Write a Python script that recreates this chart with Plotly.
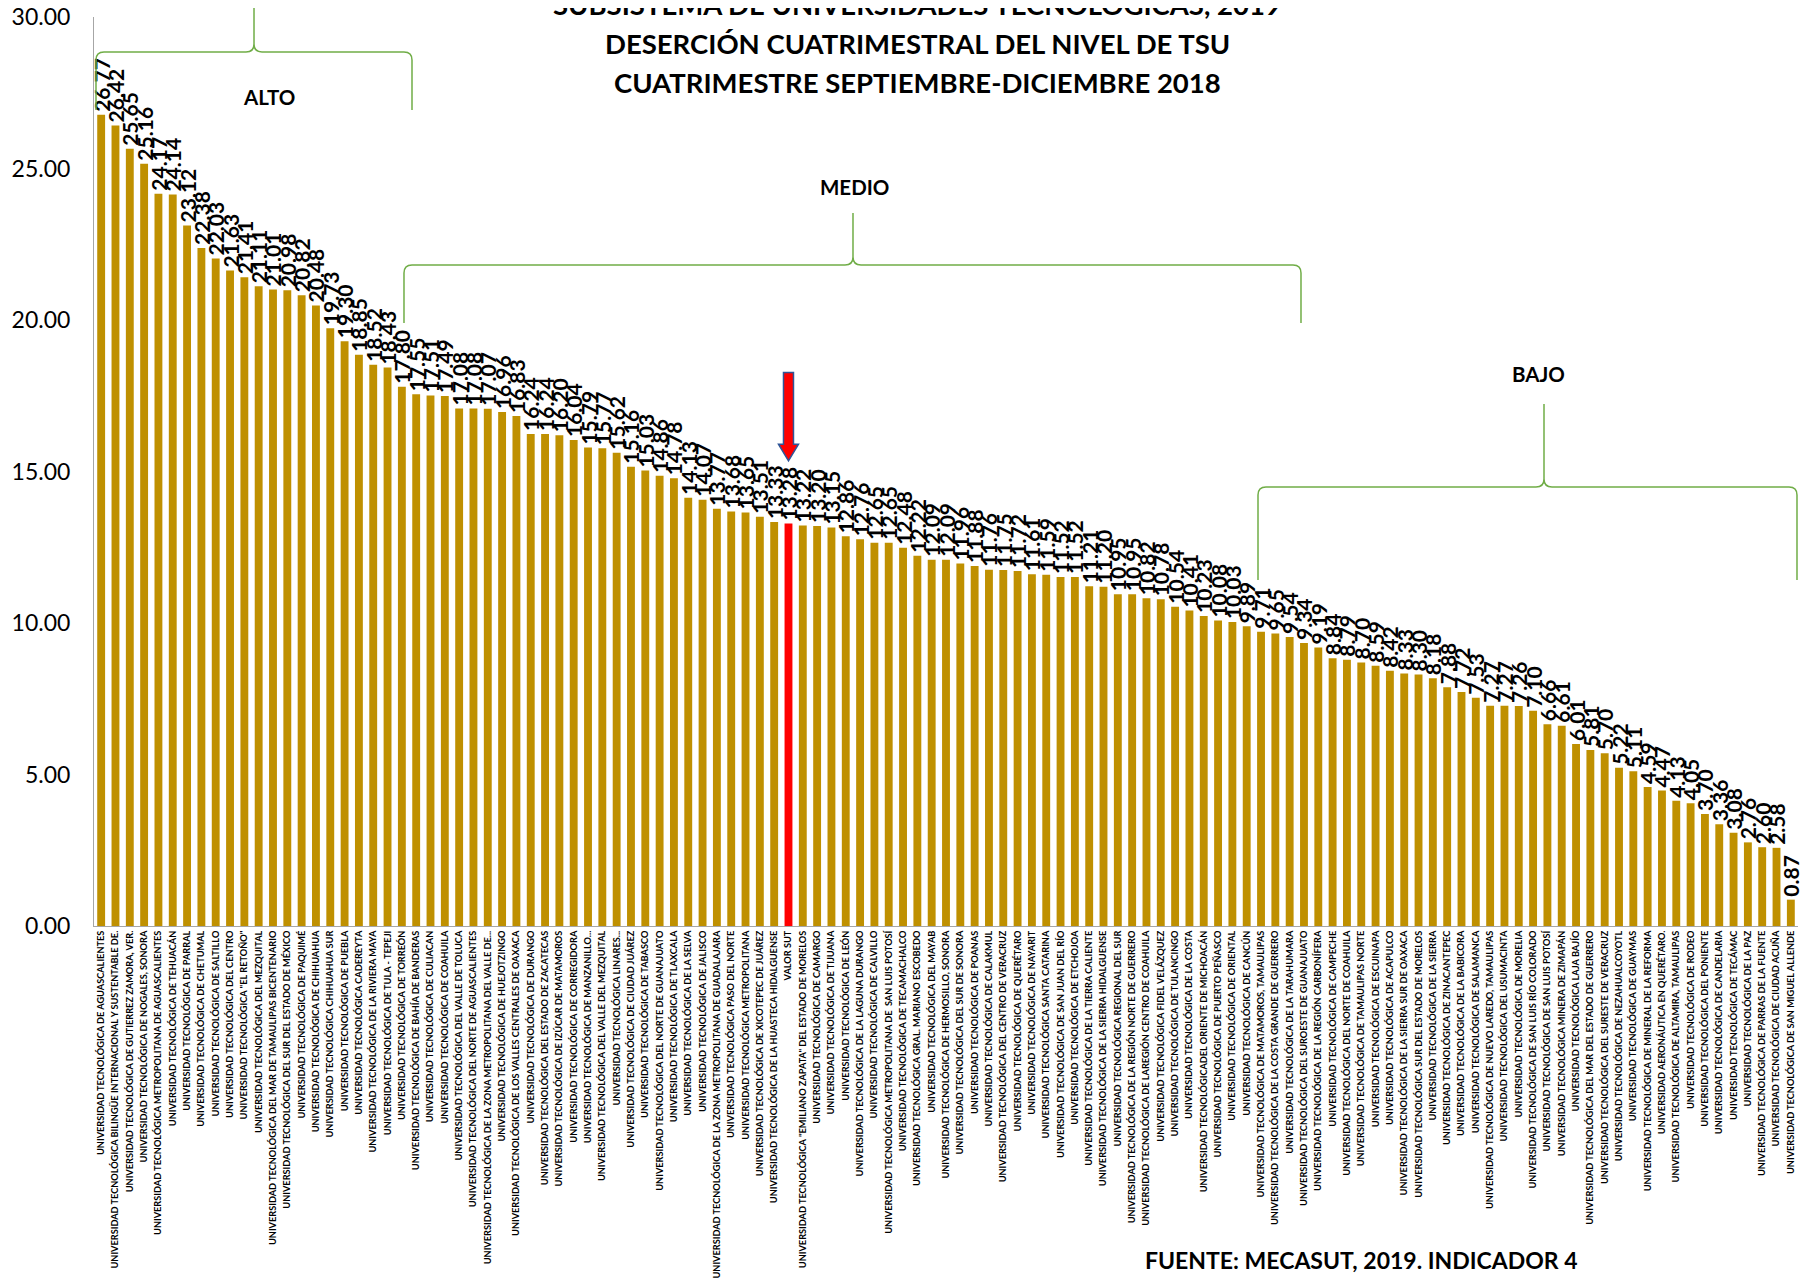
import plotly.graph_objects as go

universidades = [
    "UNIVERSIDAD TECNOLÓGICA DE AGUASCALIENTES",
    "UNIVERSIDAD TECNOLÓGICA BILINGÜE INTERNACIONAL Y SUSTENTABLE DE.",
    "UNIVERSIDAD TECNOLÓGICA DE GUTIERREZ ZAMORA, VER.",
    "UNIVERSIDAD TECNOLÓGICA DE NOGALES, SONORA",
    "UNIVERSIDAD TECNOLÓGICA METROPOLITANA DE AGUASCALIENTES",
    "UNIVERSIDAD TECNOLÓGICA DE TEHUACÁN",
    "UNIVERSIDAD TECNOLÓGICA DE PARRAL",
    "UNIVERSIDAD TECNOLÓGICA DE CHETUMAL",
    "UNIVERSIDAD TECNOLÓGICA DE SALTILLO",
    "UNIVERSIDAD TECNOLÓGICA DEL CENTRO",
    "UNIVERSIDAD TECNOLÓGICA \"EL RETOÑO\"",
    "UNIVERSIDAD TECNOLÓGICA DEL MEZQUITAL",
    "UNIVERSIDAD TECNOLÓGICA DEL MAR DE TAMAULIPAS BICENTENARIO",
    "UNIVERSIDAD TECNOLÓGICA DEL SUR DEL ESTADO DE MÉXICO",
    "UNIVERSIDAD TECNOLÓGICA DE PAQUIMÉ",
    "UNIVERSIDAD TECNOLÓGICA DE CHIHUAHUA",
    "UNIVERSIDAD TECNOLÓGICA CHIHUAHUA SUR",
    "UNIVERSIDAD TECNOLÓGICA DE PUEBLA",
    "UNIVERSIDAD TECNOLÓGICA CADEREYTA",
    "UNIVERSIDAD TECNOLÓGICA DE LA RIVIERA MAYA",
    "UNIVERSIDAD TECNOLÓGICA DE TULA - TEPEJI",
    "UNIVERSIDAD TECNOLÓGICA DE TORREÓN",
    "UNIVERSIDAD TECNOLÓGICA DE BAHÍA DE BANDERAS",
    "UNIVERSIDAD TECNOLÓGICA DE CULIACAN",
    "UNIVERSIDAD TECNOLÓGICA DE COAHUILA",
    "UNIVERSIDAD TECNOLÓGICA DEL VALLE DE TOLUCA",
    "UNIVERSIDAD TECNOLÓGICA DEL NORTE DE AGUASCALIENTES",
    "UNIVERSIDAD TECNOLÓGICA DE LA ZONA METROPOLITANA DEL VALLE DE...",
    "UNIVERSIDAD TECNOLÓGICA DE HUEJOTZINGO",
    "UNIVERSIDAD TECNOLÓGICA DE LOS VALLES CENTRALES DE OAXACA",
    "UNIVERSIDAD TECNOLÓGICA DE DURANGO",
    "UNIVERSIDAD TECNOLÓGICA DEL ESTADO DE ZACATECAS",
    "UNIVERSIDAD TECNOLÓGICA DE IZÚCAR DE MATAMOROS",
    "UNIVERSIDAD TECNOLÓGICA DE CORREGIDORA",
    "UNIVERSIDAD TECNOLÓGICA DE MANZANILLO...",
    "UNIVERSIDAD TECNOLÓGICA DEL VALLE DEL MEZQUITAL",
    "UNIVERSIDAD TECNOLÓGICA LINARES...",
    "UNIVERSIDAD TECNOLÓGICA DE CIUDAD JUÁREZ",
    "UNIVERSIDAD TECNOLÓGICA DE TABASCO",
    "UNIVERSIDAD TECNOLÓGICA DEL NORTE DE GUANAJUATO",
    "UNIVERSIDAD TECNOLÓGICA DE TLAXCALA",
    "UNIVERSIDAD TECNOLÓGICA DE LA SELVA",
    "UNIVERSIDAD TECNOLÓGICA DE JALISCO",
    "UNIVERSIDAD TECNOLÓGICA DE LA ZONA METROPOLITANA DE GUADALAJARA",
    "UNIVERSIDAD TECNOLÓGICA PASO DEL NORTE",
    "UNIVERSIDAD TECNOLÓGICA METROPOLITANA",
    "UNIVERSIDAD TECNOLÓGICA DE XICOTEPEC DE JUÁREZ",
    "UNIVERSIDAD TECNOLÓGICA DE LA HUASTECA HIDALGUENSE",
    "VALOR SUT",
    "UNIVERSIDAD TECNOLÓGICA \"EMILIANO ZAPATA\" DEL ESTADO DE MORELOS",
    "UNIVERSIDAD TECNOLÓGICA DE CAMARGO",
    "UNIVERSIDAD TECNOLÓGICA DE TIJUANA",
    "UNIVERSIDAD TECNOLÓGICA DE LEÓN",
    "UNIVERSIDAD TECNOLÓGICA DE LA LAGUNA DURANGO",
    "UNIVERSIDAD TECNOLÓGICA DE CALVILLO",
    "UNIVERSIDAD TECNOLÓGICA METROPOLITANA DE  SAN LUIS POTOSÍ",
    "UNIVERSIDAD TECNOLÓGICA DE TECAMACHALCO",
    "UNIVERSIDAD TECNOLÓGICA GRAL. MARIANO ESCOBEDO",
    "UNIVERSIDAD TECNOLÓGICA DEL MAYAB",
    "UNIVERSIDAD TECNOLÓGICA DE HERMOSILLO, SONORA",
    "UNIVERSIDAD TECNOLÓGICA DEL SUR DE SONORA",
    "UNIVERSIDAD TECNOLÓGICA DE POANAS",
    "UNIVERSIDAD TECNOLÓGICA DE CALAKMUL",
    "UNIVERSIDAD TECNOLÓGICA DEL CENTRO DE VERACRUZ",
    "UNIVERSIDAD TECNOLÓGICA DE QUERÉTARO",
    "UNIVERSIDAD TECNOLÓGICA DE NAYARIT",
    "UNIVERSIDAD TECNOLÓGICA SANTA CATARINA",
    "UNIVERSIDAD TECNOLÓGICA DE SAN JUAN DEL RÍO",
    "UNIVERSIDAD TECNOLÓGICA DE ETCHOJOA",
    "UNIVERSIDAD TECNOLÓGICA DE LA TIERRA CALIENTE",
    "UNIVERSIDAD TECNOLÓGICA DE LA SIERRA HIDALGUENSE",
    "UNIVERSIDAD TECNOLÓGICA REGIONAL DEL SUR",
    "UNIVERSIDAD TECNOLÓGICA DE LA REGIÓN NORTE DE GUERRERO",
    "UNIVERSIDAD TECNOLÓGICA DE LAREGIÓN CENTRO DE COAHUILA",
    "UNIVERSIDAD TECNOLÓGICA FIDEL VELÁZQUEZ",
    "UNIVERSIDAD TECNOLÓGICA DE TULANCINGO",
    "UNIVERSIDAD TECNOLÓGICA DE LA COSTA",
    "UNIVERSIDAD TECNOLÓGICADEL ORIENTE DE MICHOACÁN",
    "UNIVERSIDAD TECNOLÓGICA DE PUERTO PEÑASCO",
    "UNIVERSIDAD TECNOLÓGICA DE ORIENTAL",
    "UNIVERSIDAD TECNOLÓGICA DE CANCÚN",
    "UNIVERSIDAD TECNOLÓGICA DE MATAMOROS, TAMAULIPAS",
    "UNIVERSIDAD TECNOLÓGICA DE LA COSTA GRANDE DE GUERRERO",
    "UNIVERSIDAD TECNOLÓGICA DE LA TARAHUMARA",
    "UNIVERSIDAD TECNOLÓGICA DEL SUROESTE DE GUANAJUATO",
    "UNIVERSIDAD TECNOLÓGICA DE LA REGIÓN CARBONÍFERA",
    "UNIVERSIDAD TECNOLÓGICA DE CAMPECHE",
    "UNIVERSIDAD TECNOLÓGICA DEL NORTE DE COAHUILA",
    "UNIVERSIDAD TECNOLÓGICA DE TAMAULIPAS NORTE",
    "UNIVERSIDAD TECNOLÓGICA DE ESCUINAPA",
    "UNIVERSIDAD TECNOLÓGICA DE ACAPULCO",
    "UNIVERSIDAD TECNOLÓGICA DE LA SIERRA SUR DE OAXACA",
    "UNIVERSIDAD TECNOLÓGICA SUR DEL ESTADO DE MORELOS",
    "UNIVERSIDAD TECNOLÓGICA DE LA SIERRA",
    "UNIVERSIDAD TECNOLÓGICA DE ZINACANTEPEC",
    "UNIVERSIDAD TECNOLÓGICA DE LA BABICORA",
    "UNIVERSIDAD TECNOLÓGICA DE SALAMANCA",
    "UNIVERSIDAD TECNOLÓGICA DE NUEVO LAREDO, TAMAULIPAS",
    "UNIVERSIDAD TECNOLÓGICA DEL USUMACINTA",
    "UNIVERSIDAD TECNOLÓGICA DE MORELIA",
    "UNIVERSIDAD TECNOLÓGICA DE SAN LUIS RÍO COLORADO",
    "UNIVERSIDAD TECNOLÓGICA DE SAN LUIS POTOSÍ",
    "UNIVERSIDAD TECNOLÓGICA MINERA DE ZIMAPÁN",
    "UNIVERSIDAD TECNOLÓGICA LAJA BAJÍO",
    "UNIVERSIDAD TECNOLÓGICA DEL MAR DEL ESTADO DE GUERRERO",
    "UNIVERSIDAD TECNOLÓGICA DEL SURESTE DE VERACRUZ",
    "UNIVERSIDAD TECNOLÓGICA DE NEZAHUALCOYOTL",
    "UNIVERSIDAD TECNOLÓGICA DE GUAYMAS",
    "UNIVERSIDAD TECNOLÓGICA DE MINERAL DE LA REFORMA",
    "UNIVERSIDAD AERONÁUTICA EN QUERÉTARO.",
    "UNIVERSIDAD TECNOLÓGICA DE ALTAMIRA, TAMAULIPAS",
    "UNIVERSIDAD TECNOLÓGICA DE RODEO",
    "UNIVERSIDAD TECNOLÓGICA DEL PONIENTE",
    "UNIVERSIDAD TECNOLÓGICA DE CANDELARIA",
    "UNIVERSIDAD TECNOLÓGICA DE TECÁMAC",
    "UNIVERSIDAD TECNOLÓGICA DE LA PAZ",
    "UNIVERSIDAD TECNOLÓGICA DE PARRAS DE LA FUENTE",
    "UNIVERSIDAD TECNOLÓGICA DE CIUDAD ACUÑA",
    "UNIVERSIDAD TECNOLÓGICA DE SAN MIGUEL ALLENDE",
]

desercion = [
    26.77, 26.42, 25.65, 25.16, 24.17, 24.14, 23.12, 22.38, 22.03, 21.63,
    21.41, 21.11, 21.01, 20.98, 20.82, 20.48, 19.73, 19.30, 18.85, 18.52,
    18.43, 17.80, 17.55, 17.51, 17.49, 17.08, 17.08, 17.07, 16.96, 16.83,
    16.24, 16.24, 16.20, 16.04, 15.79, 15.77, 15.62, 15.16, 15.03, 14.86,
    14.78, 14.13, 14.07, 13.77, 13.68, 13.65, 13.51, 13.33, 13.28, 13.22,
    13.20, 13.15, 12.86, 12.76, 12.65, 12.65, 12.48, 12.22, 12.09, 12.09,
    11.96, 11.88, 11.76, 11.75, 11.72, 11.61, 11.59, 11.52, 11.52, 11.21,
    11.20, 10.95, 10.95, 10.82, 10.78, 10.54, 10.41, 10.23, 10.08, 10.03,
    9.89, 9.71, 9.65, 9.54, 9.34, 9.19, 8.84, 8.79, 8.70, 8.59,
    8.42, 8.33, 8.30, 8.18, 7.88, 7.72, 7.53, 7.27, 7.27, 7.26,
    7.10, 6.66, 6.61, 6.01, 5.81, 5.70, 5.22, 5.11, 4.59, 4.47,
    4.13, 4.05, 3.70, 3.36, 3.08, 2.76, 2.60, 2.58, 0.87,
]

resaltado = "VALOR SUT"
titulo = [
    "SUBSISTEMA DE UNIVERSIDADES TECNOLÓGICAS, 2019",
    "DESERCIÓN CUATRIMESTRAL DEL NIVEL DE TSU",
    "CUATRIMESTRE SEPTIEMBRE-DICIEMBRE 2018",
]
fuente = "FUENTE: MECASUT, 2019. INDICADOR 4"
y_ticks = [0, 5, 10, 15, 20, 25, 30]

GOLD = "#BF9000"
RED = "#FF0000"
GREEN = "#70AD47"
FONT = "Lato"

# page has an 8px body offset; work in page pixels and convert
OFF = 8
W, H = 1809 - OFF, 1282 - OFF
PL, PR, PT, PB = 94, 1798, 17, 926   # plot area in page pixels
ML, MR, MT, MB = PL - OFF, 1809 - PR, PT - OFF, 1282 - PB
PW = PR - PL
PH = PB - PT

colors = [RED if u == resaltado else GOLD for u in universidades]
labels = [f"{v:.2f}" for v in desercion]

fig = go.Figure(
    go.Bar(
        x=universidades,
        y=desercion,
        marker=dict(color=colors, line=dict(width=0)),
        text=labels,
        texttemplate="<b>%{text}</b>",
        textposition="outside",
        textangle=-90,
        textfont=dict(family=FONT, size=21, color="black"),
        constraintext="none",
        cliponaxis=False,
        hoverinfo="x+y",
    )
)

n = len(universidades)


def px(x):
    return (x - PL) / PW


def py(y):
    return 1 - (y - PT) / PH


def brace(x0, x1, xm, yh, yb, yp, r=8):
    pts = [
        ("M", x0, yb), ("L", x0, yh + r), ("Q", x0, yh, x0 + r, yh),
        ("L", xm - r, yh), ("Q", xm, yh, xm, yh - r), ("L", xm, yp),
        ("L", xm, yh - r), ("Q", xm, yh, xm + r, yh),
        ("L", x1 - r, yh), ("Q", x1, yh, x1, yh + r), ("L", x1, yb),
    ]
    out = []
    for p in pts:
        cmd = p[0]
        coords = p[1:]
        s = []
        for i in range(0, len(coords), 2):
            s.append(f"{px(coords[i]):.5f},{py(coords[i+1]):.5f}")
        out.append(cmd + " " + " ".join(s))
    return " ".join(out)


shapes = []
for b in [
    (96, 412, 254, 52, 110, 0),
    (404, 1301, 853, 265, 323, 213),
    (1258, 1797, 1544, 487, 580, 404),
]:
    shapes.append(dict(type="path", xref="paper", yref="paper",
                       path=brace(*b), line=dict(color=GREEN, width=1.5),
                       layer="above"))

# arrow over VALOR SUT
idx = universidades.index(resaltado)
xc = (idx + 0.5) / n
sw = 5 / PW
hw = 10 / PW
y_top, y_head, y_tip = 18.27, 15.9, 15.35
arrow = (f"M {xc-sw},{y_top} L {xc+sw},{y_top} L {xc+sw},{y_head} "
         f"L {xc+hw},{y_head} L {xc},{y_tip} L {xc-hw},{y_head} "
         f"L {xc-sw},{y_head} Z")
shapes.append(dict(type="path", xref="paper", yref="y", path=arrow,
                   fillcolor=RED, line=dict(color="#2F5597", width=1.5),
                   layer="above"))

annotations = []
for txt, yy in zip(titulo, [4, 43, 82]):
    annotations.append(dict(text=f"<b>{txt}</b>", xref="paper", yref="paper",
                            x=px(917), y=py(yy), showarrow=False,
                            xanchor="center", yanchor="middle",
                            font=dict(family=FONT, size=27.5, color="black")))
for txt, x, y in [("ALTO", 269, 97), ("MEDIO", 854, 187), ("BAJO", 1538, 374)]:
    annotations.append(dict(text=f"<b>{txt}</b>", xref="paper", yref="paper",
                            x=px(x), y=py(y), showarrow=False,
                            xanchor="center", yanchor="middle",
                            font=dict(family=FONT, size=20.5, color="black")))
annotations.append(dict(text=f"<b>{fuente}</b>", xref="paper", yref="paper",
                        x=px(1361), y=py(1260), showarrow=False,
                        xanchor="center", yanchor="middle",
                        font=dict(family=FONT, size=23, color="black")))

fig.update_layout(
    width=W, height=H,
    margin=dict(l=ML, r=MR, t=MT, b=MB, autoexpand=False),
    paper_bgcolor="white", plot_bgcolor="white",
    bargap=0.45,
    showlegend=False,
    shapes=shapes,
    annotations=annotations,
    font=dict(family=FONT, color="black"),
    xaxis=dict(
        type="category", range=[-0.5, n - 0.5],
        tickangle=-90, tickfont=dict(family=FONT, size=9.2, color="black",
                                     weight="bold"),
        showline=True, linecolor="#A6A6A6", linewidth=1,
        showgrid=False, zeroline=False, automargin=False, ticks="",
        ticklabeloverflow="allow",
    ),
    yaxis=dict(
        range=[0, 30], tickvals=y_ticks, tickformat=".2f",
        tickfont=dict(family=FONT, size=23, color="black"),
        showline=True, linecolor="#A6A6A6", linewidth=1,
        showgrid=False, zeroline=False, automargin=False,
        ticks="outside", ticklen=18, tickcolor="rgba(0,0,0,0)",
        ticklabeloverflow="allow",
    ),
)

fig.write_html("out.html")
